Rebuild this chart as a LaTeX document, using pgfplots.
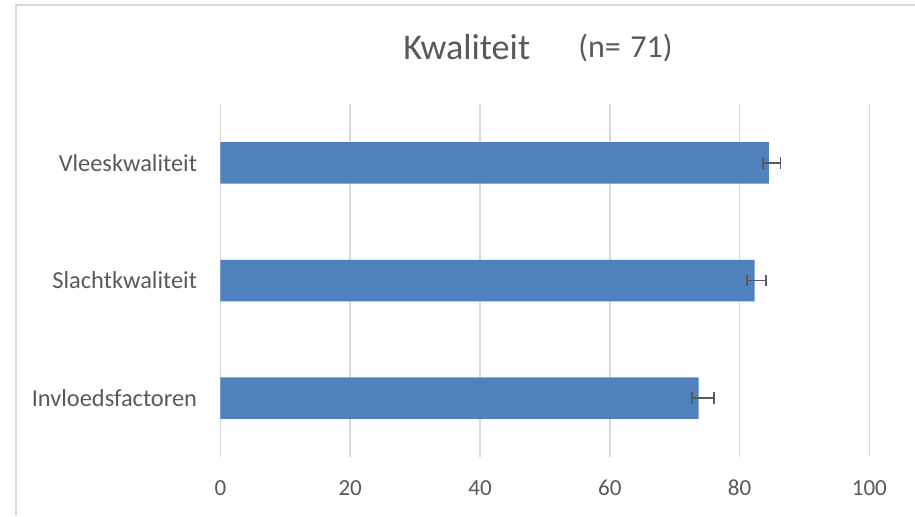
\documentclass[border=0pt]{standalone}
\usepackage{pgfplots}
\pgfplotsset{compat=1.18}
\usepackage{fontspec}
\setmainfont{Carlito}
\definecolor{barblue}{HTML}{4F81BD}
\definecolor{txtgray}{HTML}{595959}
\definecolor{gridgray}{HTML}{D9D9D9}

\begin{document}
\begin{tikzpicture}[x=1pt,y=1pt]
\useasboundingbox (0,0) rectangle (457.5,258);
% chart frame (only top and left edges inside the picture)
\draw[gridgray, line width=0.75pt] (8,0) -- (8,255.5) -- (457.5,255.5);
\begin{axis}[
  at={(110.2pt,29.5pt)}, anchor=south west,
  scale only axis, width=324.5pt, height=176.5pt,
  xbar, bar width=20.75pt,
  xmin=0, xmax=100, ymin=-0.5, ymax=2.5,
  xtick={0,20,...,100},
  ytick={0,1,2},
  yticklabels={Invloedsfactoren,Slachtkwaliteit,Vleeskwaliteit},
  xmajorgrids, grid style={gridgray, line width=0.75pt},
  axis line style={draw=none},
  major tick length=0pt,
  tick label style={font=\fontsize{11.5}{13}\selectfont, text=txtgray},
  xticklabel style={anchor=center, yshift=-15.5pt},
  yticklabel style={anchor=east, inner sep=0pt, xshift=-11.5pt, font=\fontsize{12.2}{14}\selectfont},
  /pgf/number format/assume math mode=true,
]
\addplot[fill=barblue, draw=none,
  error bars/.cd, x dir=both, x explicit,
  error bar style={txtgray, line width=0.95pt},
  error mark options={txtgray, line width=0.95pt, mark size=2.9pt, rotate=90}]
coordinates {
  (73.7,0) += (2.3,0) -= (1.1,0)
  (82.3,1) += (1.7,0) -= (1.1,0)
  (84.5,2) += (1.8,0) -= (0.95,0)
};
\end{axis}
\node[text=txtgray, anchor=base west, inner sep=0pt] at (201.5,228.35)
  {\fontsize{18.1}{22}\selectfont Kwaliteit};
\node[text=txtgray, anchor=base west, inner sep=0pt] at (289,229.2)
  {\fontsize{16}{19}\selectfont (n=\hspace{0.3em}71)};
\end{tikzpicture}
\end{document}
